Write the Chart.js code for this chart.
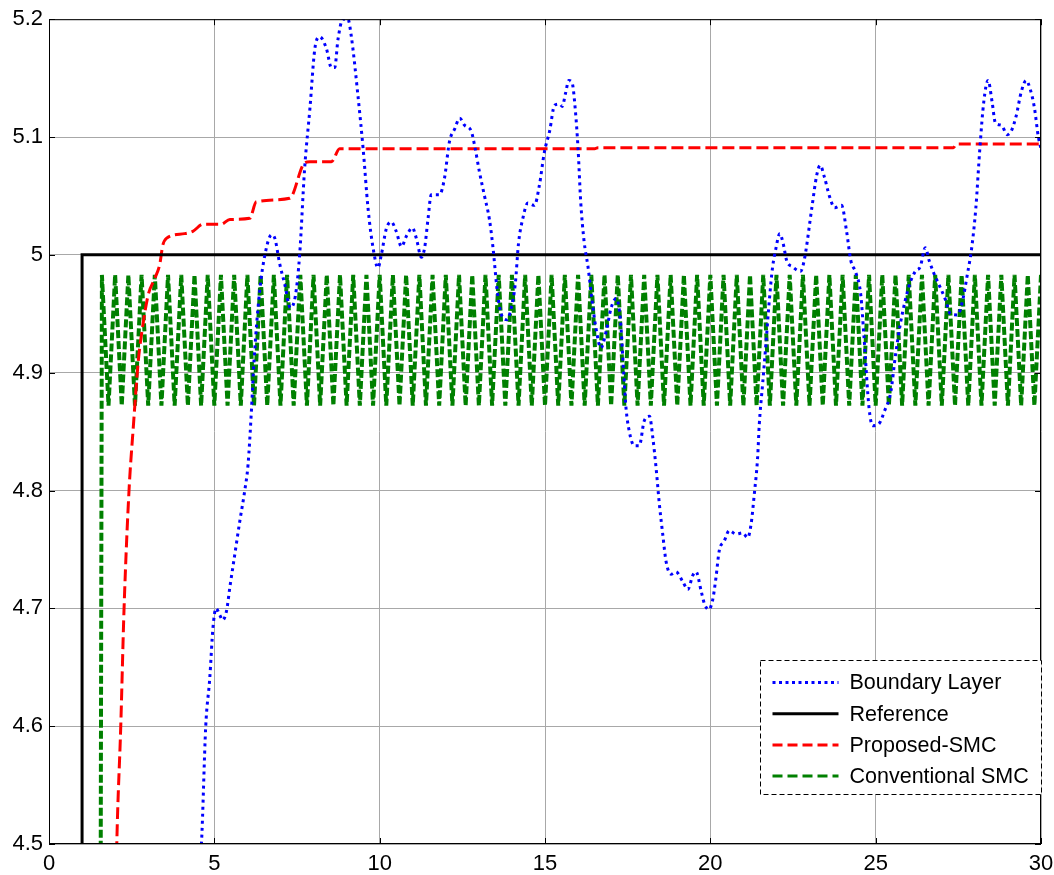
<!DOCTYPE html>
<html>
<head>
<meta charset="utf-8">
<script src="https://cdn.jsdelivr.net/npm/chart.js@4.4.0/dist/chart.umd.min.js"></script>
<style>
  html, body { margin: 0; padding: 0; background: #fff; }
  #wrap { width: 1054px; height: 875px; }
</style>
</head>
<body>
<div id="wrap"><canvas id="myChart" width="1054" height="875"></canvas></div>
<script>
// axis ticks
var xTicks = [0, 5, 10, 15, 20, 25, 30];
var xTickLabels = ['0', '5', '10', '15', '20', '25', '30'];
var yTicks = [4.5, 4.6, 4.7, 4.8, 4.9, 5.0, 5.1, 5.2];
var yTickLabels = ['4.5', '4.6', '4.7', '4.8', '4.9', '5', '5.1', '5.2'];

var seriesNames = ['Boundary Layer', 'Reference', 'Proposed-SMC', 'Conventional SMC'];

// [time, output]
var boundaryLayer = [
  [4.50,4.47],[4.61,4.50],[4.74,4.60],[4.86,4.64],[4.96,4.684],[5.05,4.700],[5.17,4.694],[5.25,4.690],
  [5.37,4.698],[5.47,4.718],[5.62,4.746],[5.77,4.774],[5.92,4.800],[6.02,4.822],[6.12,4.867],[6.20,4.910],
  [6.37,4.969],[6.53,5.000],[6.73,5.017],[6.83,5.014],[6.98,4.992],[7.13,4.975],[7.30,4.955],[7.45,4.965],
  [7.58,5.000],[7.73,5.073],[7.89,5.124],[8.04,5.175],[8.19,5.185],[8.39,5.175],[8.54,5.159],[8.64,5.159],
  [8.74,5.183],[8.89,5.200],[9.04,5.200],[9.14,5.186],[9.34,5.136],[9.50,5.090],[9.65,5.039],[9.80,5.006],
  [9.95,4.989],[10.05,5.000],[10.20,5.022],[10.35,5.028],[10.50,5.020],[10.66,5.007],[10.81,5.016],[10.99,5.023],
  [11.11,5.014],[11.26,4.998],[11.36,5.006],[11.46,5.030],[11.56,5.051],[11.81,5.051],[11.96,5.065],[12.11,5.096],
  [12.27,5.107],[12.42,5.116],[12.57,5.110],[12.77,5.105],[12.87,5.093],[13.02,5.070],[13.17,5.050],[13.32,5.030],
  [13.42,5.008],[13.57,4.966],[13.70,4.948],[13.85,4.945],[13.98,4.955],[14.10,4.975],[14.20,5.010],[14.33,5.031],
  [14.48,5.044],[14.68,5.042],[14.83,5.059],[14.98,5.087],[15.14,5.105],[15.29,5.127],[15.44,5.128],[15.52,5.126],
  [15.62,5.137],[15.72,5.148],[15.82,5.146],[15.92,5.122],[16.00,5.090],[16.08,5.045],[16.18,5.012],[16.30,4.990],
  [16.42,4.962],[16.54,4.938],[16.69,4.921],[16.85,4.935],[17.00,4.955],[17.15,4.963],[17.28,4.945],[17.38,4.900],
  [17.45,4.870],[17.55,4.850],[17.70,4.838],[17.85,4.838],[18.00,4.859],[18.16,4.863],[18.26,4.845],[18.36,4.819],
  [18.46,4.788],[18.56,4.763],[18.66,4.740],[18.81,4.729],[18.96,4.731],[19.16,4.723],[19.32,4.716],[19.47,4.728],
  [19.57,4.731],[19.72,4.715],[19.82,4.704],[19.95,4.699],[20.07,4.707],[20.17,4.726],[20.27,4.749],[20.42,4.757],
  [20.57,4.766],[20.78,4.763],[20.98,4.764],[21.13,4.760],[21.23,4.771],[21.33,4.797],[21.43,4.828],[21.48,4.856],
  [21.58,4.890],[21.68,4.924],[21.78,4.960],[21.88,4.989],[21.98,5.005],[22.10,5.018],[22.20,5.010],[22.31,4.995],
  [22.48,4.990],[22.73,4.986],[22.85,4.997],[23.07,5.040],[23.22,5.068],[23.32,5.076],[23.45,5.066],[23.60,5.050],
  [23.76,5.040],[23.97,5.042],[24.12,5.020],[24.25,4.995],[24.40,4.985],[24.55,4.966],[24.65,4.929],[24.80,4.870],
  [24.91,4.855],[25.11,4.857],[25.26,4.867],[25.46,4.884],[25.60,4.915],[25.75,4.942],[25.90,4.962],[26.05,4.977],
  [26.20,4.986],[26.35,4.990],[26.50,5.006],[26.62,4.995],[26.75,4.985],[26.91,4.975],[27.11,4.962],[27.26,4.950],
  [27.47,4.949],[27.62,4.960],[27.77,4.983],[27.90,5.005],[28.03,5.040],[28.15,5.090],[28.27,5.130],[28.40,5.148],
  [28.52,5.130],[28.62,5.112],[28.80,5.110],[28.98,5.102],[29.10,5.105],[29.25,5.118],[29.40,5.138],[29.55,5.148],
  [29.68,5.140],[29.80,5.125],[29.92,5.100],[30.00,5.090]
];

var reference = [[1, 4.0], [1, 5.0], [30, 5.0]];

var proposedSmc = [
  [2.00,4.42],[2.05,4.50],[2.17,4.60],[2.27,4.70],[2.42,4.80],[2.55,4.854],[2.70,4.910],[2.80,4.933],
  [3.00,4.966],[3.20,4.980],[3.35,4.992],[3.44,5.008],[3.55,5.014],[4.10,5.018],[4.35,5.020],[4.66,5.026],
  [5.20,5.026],[5.47,5.030],[6.07,5.031],[6.27,5.045],[7.28,5.048],[7.73,5.078],[7.89,5.079],[8.54,5.079],
  [8.79,5.090],[16.50,5.090],[16.60,5.091],[27.35,5.091],[27.45,5.094],[30.00,5.094]
];

// conventional SMC chatters between two levels
var conventionalT = [1.55,
  1.6,1.8,2.0,2.2,2.4,2.6,2.8,3.0,3.2,3.4,
  3.6,3.8,4.0,4.2,4.4,4.6,4.8,5.0,5.2,5.4,
  5.6,5.8,6.0,6.2,6.4,6.6,6.8,7.0,7.2,7.4,
  7.6,7.8,8.0,8.2,8.4,8.6,8.8,9.0,9.2,9.4,
  9.6,9.8,10.0,10.2,10.4,10.6,10.8,11.0,11.2,11.4,
  11.6,11.8,12.0,12.2,12.4,12.6,12.8,13.0,13.2,13.4,
  13.6,13.8,14.0,14.2,14.4,14.6,14.8,15.0,15.2,15.4,
  15.6,15.8,16.0,16.2,16.4,16.6,16.8,17.0,17.2,17.4,
  17.6,17.8,18.0,18.2,18.4,18.6,18.8,19.0,19.2,19.4,
  19.6,19.8,20.0,20.2,20.4,20.6,20.8,21.0,21.2,21.4,
  21.6,21.8,22.0,22.2,22.4,22.6,22.8,23.0,23.2,23.4,
  23.6,23.8,24.0,24.2,24.4,24.6,24.8,25.0,25.2,25.4,
  25.6,25.8,26.0,26.2,26.4,26.6,26.8,27.0,27.2,27.4,
  27.6,27.8,28.0,28.2,28.4,28.6,28.8,29.0,29.2,29.4,
  29.6,29.8,30.0];
var conventionalV = [4.30,
  4.983,4.872,4.983,4.872,4.983,4.872,4.983,4.872,4.983,4.872,
  4.983,4.872,4.983,4.872,4.983,4.872,4.983,4.872,4.983,4.872,
  4.983,4.872,4.983,4.872,4.983,4.872,4.983,4.872,4.983,4.872,
  4.983,4.872,4.983,4.872,4.983,4.872,4.983,4.872,4.983,4.872,
  4.983,4.872,4.983,4.872,4.983,4.872,4.983,4.872,4.983,4.872,
  4.983,4.872,4.983,4.872,4.983,4.872,4.983,4.872,4.983,4.872,
  4.983,4.872,4.983,4.872,4.983,4.872,4.983,4.872,4.983,4.872,
  4.983,4.872,4.983,4.872,4.983,4.872,4.983,4.872,4.983,4.872,
  4.983,4.872,4.983,4.872,4.983,4.872,4.983,4.872,4.983,4.872,
  4.983,4.872,4.983,4.872,4.983,4.872,4.983,4.872,4.983,4.872,
  4.983,4.872,4.983,4.872,4.983,4.872,4.983,4.872,4.983,4.872,
  4.983,4.872,4.983,4.872,4.983,4.872,4.983,4.872,4.983,4.872,
  4.983,4.872,4.983,4.872,4.983,4.872,4.983,4.872,4.983,4.872,
  4.983,4.872,4.983,4.872,4.983,4.872,4.983,4.872,4.983,4.872,
  4.983,4.872,4.983];

var fontFamily = '"Liberation Sans", Arial, Helvetica, sans-serif';
var gridColor = '#a8a8a8';

function pairs(list) {
  return list.map(function (p) { return {x: p[0], y: p[1]}; });
}

//frame, inward ticks and boxed legend like matlab
var matlabAxes = {
  id: 'matlabAxes',
  afterDraw: function (chart) {
    var ctx = chart.ctx, a = chart.chartArea;
    var xs = chart.scales.x, ys = chart.scales.y;
    ctx.save();
    ctx.strokeStyle = '#000';
    ctx.lineWidth = 1;
    ctx.strokeRect(a.left + 0.5, a.top + 0.5, a.right - a.left - 1, a.bottom - a.top - 1);

    ctx.beginPath();
    xTicks.forEach(function (v) {
      var px = Math.round(xs.getPixelForValue(v)) + 0.5;
      ctx.moveTo(px, a.bottom); ctx.lineTo(px, a.bottom - 6);
      ctx.moveTo(px, a.top); ctx.lineTo(px, a.top + 6);
    });
    yTicks.forEach(function (v) {
      var py = Math.round(ys.getPixelForValue(v)) + 0.5;
      ctx.moveTo(a.left, py); ctx.lineTo(a.left + 6, py);
      ctx.moveTo(a.right, py); ctx.lineTo(a.right - 6, py);
    });
    ctx.stroke();

    // legend box
    var w = 281, h = 134;
    var bx = Math.round(a.right - w) + 0.5, by = Math.round(a.bottom - 50 - h) + 0.5;
    ctx.fillStyle = '#fff';
    ctx.fillRect(bx, by, w, h);
    ctx.setLineDash([5, 3]);
    ctx.strokeRect(bx, by, w, h);

    ctx.font = '21.5px ' + fontFamily;
    ctx.textBaseline = 'middle';
    ctx.textAlign = 'left';
    chart.data.datasets.forEach(function (ds, i) {
      var cy = by + 22 + i * 31.2;
      ctx.beginPath();
      ctx.strokeStyle = ds.borderColor;
      ctx.lineWidth = 3;
      ctx.setLineDash(ds.legendDash);
      ctx.moveTo(bx + 12, cy);
      ctx.lineTo(bx + 78, cy);
      ctx.stroke();
      ctx.fillStyle = '#000';
      ctx.fillText(ds.label, bx + 89, cy + 1);
    });
    ctx.restore();
  }
};

var ctx = document.getElementById('myChart').getContext('2d');
var myChart = new Chart(ctx, {
  type: 'line',
  data: {
    datasets: [
      {
        label: seriesNames[0],
        data: pairs(boundaryLayer),
        borderColor: '#0000ff',
        borderWidth: 3,
        borderDash: [3, 4],
        legendDash: [3, 3.5],
        cubicInterpolationMode: 'monotone'
      },
      {
        label: seriesNames[1],
        data: pairs(reference),
        borderColor: '#000000',
        borderWidth: 3,
        borderDash: [],
        legendDash: [],
        tension: 0
      },
      {
        label: seriesNames[2],
        data: pairs(proposedSmc),
        borderColor: '#ff0000',
        borderWidth: 3,
        borderDash: [12, 5],
        legendDash: [10, 5],
        cubicInterpolationMode: 'monotone'
      },
      {
        label: seriesNames[3],
        data: conventionalT.map(function (t, i) { return {x: t, y: conventionalV[i]}; }),
        borderColor: '#008000',
        borderWidth: 4,
        borderDash: [8, 3],
        legendDash: [10, 5],
        tension: 0
      }
    ]
  },
  options: {
    responsive: false,
    animation: false,
    devicePixelRatio: 1,
    layout: { padding: { top: 17, right: 13, bottom: 0, left: 0 } },
    elements: { point: { radius: 0 }, line: { fill: false, borderCapStyle: 'butt', borderJoinStyle: 'miter' } },
    plugins: { legend: { display: false }, tooltip: { enabled: false } },
    scales: {
      x: {
        type: 'linear',
        min: 0,
        max: 30,
        afterBuildTicks: function (s) { s.ticks = xTicks.map(function (v) { return {value: v}; }); },
        afterFit: function (s) { s.height = 31; s.paddingLeft = 0; s.paddingRight = 0; },
        grid: { color: gridColor, lineWidth: 1, drawTicks: false },
        border: { display: false },
        ticks: {
          color: '#000',
          padding: 7,
          maxRotation: 0,
          autoSkip: false,
          font: { size: 22, family: fontFamily },
          callback: function (v, i) { return xTickLabels[i]; }
        }
      },
      y: {
        type: 'linear',
        min: 4.5,
        max: 5.2,
        afterBuildTicks: function (s) { s.ticks = yTicks.map(function (v) { return {value: v}; }); },
        afterFit: function (s) { s.width = 49; },
        grid: { color: gridColor, lineWidth: 1, drawTicks: false },
        border: { display: false },
        ticks: {
          color: '#000',
          padding: 6,
          autoSkip: false,
          font: { size: 22, family: fontFamily },
          callback: function (v, i) { return yTickLabels[i]; }
        }
      }
    }
  },
  plugins: [matlabAxes]
});
</script>
</body>
</html>
